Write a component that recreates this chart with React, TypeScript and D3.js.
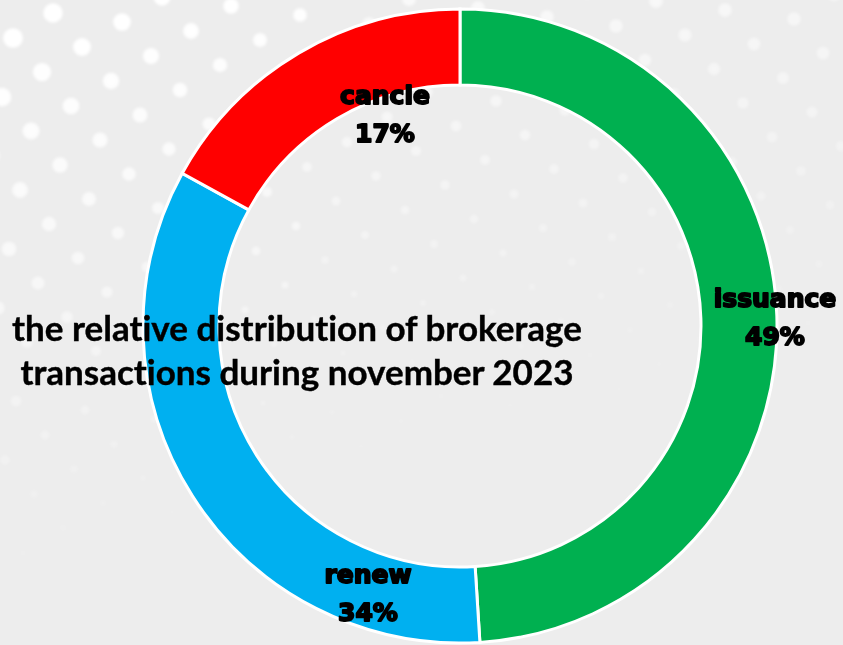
import React from "react";
import * as d3 from "d3";

const categories = ["issuance", "renew", "cancle"];
const values = [49, 34, 17];
const percentLabels = ["49%", "34%", "17%"];
const sliceColors = ["#00B050", "#00B0F0", "#FF0000"];
const titleLines = ["the relative distribution of brokerage", "transactions during november 2023"];

const W = 843;
const H = 645;
const CX = 460;
const CY = 326;
const R_OUT = 317;
const R_IN = 241;

// manual label anchor placement (center x, first-line baseline)
const labelAnchors = [
  { x: 775, y: 307 },
  { x: 368, y: 583 },
  { x: 385, y: 104 },
];

function makeDots() {
  const dots: { x: number; y: number; r: number; o: number }[] = [];
  const a = [69, 9];
  const b = [-40, 25];
  for (let i = -12; i < 20; i++) {
    for (let j = -5; j < 30; j++) {
      const x = 53 + i * a[0] + j * b[0];
      const y = 13 + i * a[1] + j * b[1];
      if (x < -10 || x > W + 10 || y < -10 || y > H + 10) continue;
      let r = 10.5 - 3.5 * Math.min(1, x / 300) - 5 * (y / 400);
      r = Math.max(2.5, r);
      let o = Math.max(0, Math.min(1, 1.1 - y / 550 - (x / W) * 0.4));
      if (x > 300) o *= 0.75;
      if (o <= 0.02) continue;
      dots.push({ x, y, r, o });
    }
  }
  return dots;
}

export default function App() {
  const pie = d3
    .pie<number>()
    .sort(null)
    .value((d) => d)
    .startAngle(0)
    .endAngle(2 * Math.PI);
  const arcs = pie(values);
  const arc = d3.arc<d3.PieArcDatum<number>>().innerRadius(R_IN).outerRadius(R_OUT);
  const dots = makeDots();

  return (
    <svg
      width={W}
      height={H}
      style={{ position: "absolute", left: 0, top: 0, display: "block" }}
    >
      <defs>
        <filter id="blur" x="-50%" y="-50%" width="200%" height="200%">
          <feGaussianBlur stdDeviation="1.8" />
        </filter>
      </defs>
      <rect x={0} y={0} width={W} height={H} fill="#EDEDED" />
      <g filter="url(#blur)">
        {dots.map((d, i) => (
          <circle key={i} cx={d.x} cy={d.y} r={d.r} fill="#FFFFFF" opacity={d.o} />
        ))}
      </g>
      <g transform={`translate(${CX},${CY})`}>
        {arcs.map((a, i) => (
          <path
            key={categories[i]}
            d={arc(a) || ""}
            fill={sliceColors[i]}
            stroke="#FFFFFF"
            strokeWidth={3}
          />
        ))}
      </g>
      {categories.map((c, i) => (
        <text
          key={c}
          x={labelAnchors[i].x}
          y={labelAnchors[i].y}
          textAnchor="middle"
          fontFamily="'DejaVu Sans'"
          fontWeight={700}
          fontSize={25}
          fill="#000"
          stroke="#000"
          strokeWidth={1.9}
          strokeLinejoin="round"
        >
          <tspan x={labelAnchors[i].x}>{c}</tspan>
          <tspan x={labelAnchors[i].x} dy={38}>
            {percentLabels[i]}
          </tspan>
        </text>
      ))}
      <text
        x={297}
        y={341}
        textAnchor="middle"
        fontFamily="Lato, sans-serif"
        fontWeight={700}
        fontSize={35}
        fill="#000"
        stroke="#000"
        strokeWidth={0.4}
        style={{ fontVariantLigatures: "none", fontFeatureSettings: "'liga' 0" }}
      >
        <tspan x={297}>{titleLines[0]}</tspan>
        <tspan x={297} dy={44}>
          {titleLines[1]}
        </tspan>
      </text>
    </svg>
  );
}
